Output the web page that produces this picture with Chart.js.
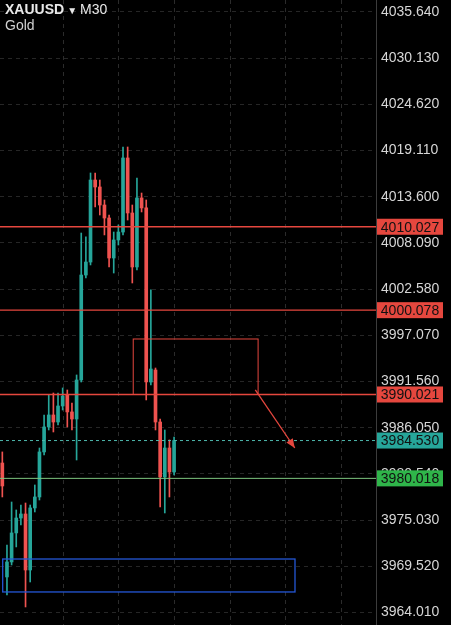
<!DOCTYPE html>
<html>
<head>
<meta charset="utf-8">
<script src="https://cdn.jsdelivr.net/npm/chart.js@4.4.1/dist/chart.umd.min.js"></script>
<style>
    html, body { margin: 0; padding: 0; background: #000; }
    #wrap { position: relative; width: 451px; height: 625px; }
    #title { position: absolute; left: 5px; top: 2px; font-family: "Liberation Sans", Arial, sans-serif; color: #e8e8e8; font-size: 14px; line-height: 15px; pointer-events: none; }
    #title .sym { font-weight: bold; }
    #title .arr { font-size: 10px; margin: 0 3px; }
    #title .sub { color: #d0d0d0; }
</style>
</head>
<body>
<div id="wrap">
    <canvas id="chart" width="451" height="625"></canvas>
    <div id="title"><span class="sym">XAUUSD</span><span class="arr">▼</span>M30<br><span class="sub">Gold</span></div>
</div>
<script>
// M30 candles
const opens  = [3981.85, 3968.26, 3970.05, 3973.51, 3975.29, 3975.77, 3969.09, 3976.49, 3977.80, 3983.17,
                3986.15, 3987.58, 3986.74, 3988.65, 3989.96, 3987.94, 3987.10, 3991.75, 4004.27, 4005.82,
                4015.60, 4014.77, 4012.62, 4011.07, 4006.30, 4008.45, 4009.40, 4018.23, 4011.67, 4005.23,
                4013.46, 4012.27, 3991.51, 3992.94, 3986.74, 3980.18, 3983.64, 3980.78];
const highs  = [3983.17, 3972.07, 3977.20, 3976.25, 3976.84, 3977.08, 3976.84, 3979.23, 3983.64, 3987.58,
                3989.96, 3990.20, 3990.20, 3990.80, 3990.56, 3989.01, 3992.35, 4009.28, 4008.81, 4016.44,
                4016.44, 4015.60, 4013.22, 4011.43, 4009.40, 4010.24, 4019.54, 4019.54, 4012.62, 4015.84,
                4014.05, 4013.22, 4002.49, 3993.18, 3987.10, 3985.79, 3984.60, 3984.95];
const lows   = [3977.80, 3966.11, 3969.69, 3971.84, 3974.46, 3964.68, 3967.66, 3976.01, 3977.44, 3982.81,
                3985.79, 3985.55, 3986.39, 3988.17, 3986.15, 3985.79, 3982.21, 3991.51, 4003.92, 4005.47,
                4012.38, 4011.43, 4009.05, 4005.23, 4004.51, 4007.85, 4009.05, 4010.83, 4003.32, 4004.87,
                4011.79, 3989.37, 3991.16, 3985.79, 3976.61, 3975.89, 3977.80, 3980.42];
const closes = [3979.11, 3970.05, 3973.51, 3975.29, 3975.77, 3969.09, 3976.49, 3977.80, 3983.17, 3986.15,
                3987.58, 3986.74, 3988.65, 3989.84, 3987.94, 3987.10, 3991.75, 4004.27, 4005.82, 4015.60,
                4014.77, 4012.62, 4011.07, 4006.30, 4008.45, 4009.40, 4018.23, 4011.67, 4005.23, 4013.46,
                4012.27, 3991.51, 3993.06, 3986.74, 3980.18, 3983.64, 3980.78, 3984.53];

const totalSlots = 81; // empty space to the right of the last bar
const tickValues = [4035.64, 4030.13, 4024.62, 4019.11, 4013.60, 4008.09, 4002.58,
                    3997.07, 3991.56, 3986.05, 3980.54, 3975.03, 3969.52, 3964.01];
const yMin = 3962.53;
const yMax = 4037.07;

const redLevels = [4010.027, 4000.078, 3990.021];
const greenLevel = 3980.018;
const lastPrice = 3984.530;
const zoneTop = 3996.64;
const arrowFrom = [54.5, 3990.56];
const arrowTo = [63.0, 3983.64];
const blueBox = { from: 0.08, to: 63.05, top: 3970.40, bottom: 3966.47 };

const UP = '#26a69a';
const DOWN = '#ef5350';

const labels = [];
for (let i = 0; i < totalSlots; i++) labels.push(i);

const colors = opens.map((o, i) => closes[i] >= o ? UP : DOWN);
const bodies = opens.map((o, i) => [Math.min(o, closes[i]), Math.max(o, closes[i])]);
const wicks = lows.map((l, i) => [l, highs[i]]);

function priceBox(ctx, chart, price, bg) {
    const y = chart.scales.y.getPixelForValue(price);
    const x = chart.chartArea.right + 1;
    ctx.fillStyle = bg;
    ctx.fillRect(x, y - 8, 66, 16);
    ctx.fillStyle = '#111';
    ctx.font = '14px "Liberation Sans", Arial, sans-serif';
    ctx.textAlign = 'center';
    ctx.textBaseline = 'middle';
    ctx.fillText(price.toFixed(3), x + 33, y + 1);
}

const overlays = {
    id: 'overlays',
    beforeDatasetsDraw(chart) {
        // time grid every 12 bars
        const ctx = chart.ctx;
        const xs = chart.scales.x;
        const area = chart.chartArea;
        ctx.save();
        ctx.strokeStyle = '#2b2b2b';
        ctx.setLineDash([4, 4]);
        ctx.lineWidth = 1;
        for (let i = 13; i < totalSlots; i += 12) {
            const x = Math.round(xs.getPixelForValue(i)) + 0.5;
            ctx.beginPath();
            ctx.moveTo(x, area.top);
            ctx.lineTo(x, area.bottom);
            ctx.stroke();
        }
        ctx.restore();
    },
    afterDatasetsDraw(chart) {
        const ctx = chart.ctx;
        const xs = chart.scales.x;
        const ys = chart.scales.y;
        const area = chart.chartArea;
        ctx.save();

        ctx.lineWidth = 1.3;
        ctx.strokeStyle = '#e5473e';
        redLevels.forEach(p => {
            const y = ys.getPixelForValue(p);
            ctx.beginPath();
            ctx.moveTo(area.left, y);
            ctx.lineTo(area.right, y);
            ctx.stroke();
        });

        ctx.lineWidth = 1;
        ctx.strokeStyle = '#7cc47f';
        let y = ys.getPixelForValue(greenLevel);
        ctx.beginPath();
        ctx.moveTo(area.left, y);
        ctx.lineTo(area.right, y);
        ctx.stroke();

        ctx.strokeStyle = '#4db6ac';
        ctx.setLineDash([3, 3]);
        y = ys.getPixelForValue(lastPrice);
        ctx.beginPath();
        ctx.moveTo(area.left, y);
        ctx.lineTo(area.right, y);
        ctx.stroke();
        ctx.setLineDash([]);

        // resistance zone
        ctx.strokeStyle = '#e5473e';
        ctx.lineWidth = 1;
        const zx1 = xs.getPixelForValue(28.2);
        const zx2 = xs.getPixelForValue(55.1);
        const zy1 = ys.getPixelForValue(zoneTop);
        const zy2 = ys.getPixelForValue(redLevels[2]);
        ctx.strokeRect(zx1, zy1, zx2 - zx1, zy2 - zy1);

        // arrow
        const ax1 = xs.getPixelForValue(arrowFrom[0]);
        const ay1 = ys.getPixelForValue(arrowFrom[1]);
        const ax2 = xs.getPixelForValue(arrowTo[0]);
        const ay2 = ys.getPixelForValue(arrowTo[1]);
        ctx.lineWidth = 1.3;
        ctx.beginPath();
        ctx.moveTo(ax1, ay1);
        ctx.lineTo(ax2, ay2);
        ctx.stroke();
        const ang = Math.atan2(ay2 - ay1, ax2 - ax1);
        ctx.fillStyle = '#e5473e';
        ctx.beginPath();
        ctx.moveTo(ax2, ay2);
        ctx.lineTo(ax2 - 10 * Math.cos(ang - 0.4), ay2 - 10 * Math.sin(ang - 0.4));
        ctx.lineTo(ax2 - 10 * Math.cos(ang + 0.4), ay2 - 10 * Math.sin(ang + 0.4));
        ctx.closePath();
        ctx.fill();

        // support zone
        ctx.strokeStyle = '#2457d6';
        ctx.lineWidth = 1.3;
        const bx1 = xs.getPixelForValue(blueBox.from);
        const bx2 = xs.getPixelForValue(blueBox.to);
        const by1 = ys.getPixelForValue(blueBox.top);
        const by2 = ys.getPixelForValue(blueBox.bottom);
        ctx.strokeRect(bx1, by1, bx2 - bx1, by2 - by1);

        ctx.restore();
    },
    afterDraw(chart) {
        const ctx = chart.ctx;
        ctx.save();
        redLevels.forEach(p => priceBox(ctx, chart, p, '#e5473e'));
        priceBox(ctx, chart, lastPrice, '#26a69a');
        priceBox(ctx, chart, greenLevel, '#2fb54a');
        ctx.restore();
    }
};

new Chart(document.getElementById('chart'), {
    type: 'bar',
    data: {
        labels: labels,
        datasets: [
            { data: wicks, backgroundColor: colors, barThickness: 1, grouped: false },
            { data: bodies, backgroundColor: colors, barThickness: 3, grouped: false }
        ]
    },
    options: {
        responsive: false,
        animation: false,
        layout: { padding: 0 },
        plugins: { legend: { display: false }, tooltip: { enabled: false } },
        scales: {
            x: { display: false },
            y: {
                position: 'right',
                min: yMin,
                max: yMax,
                afterBuildTicks: scale => { scale.ticks = tickValues.map(v => ({ value: v })); },
                afterFit: scale => {
                    scale.width = 75;
                    scale.paddingTop = 0;
                    scale.paddingBottom = 0;
                },
                grid: { color: '#262626', drawTicks: false },
                border: { display: true, color: '#3c3c3c', dash: [4, 4] },
                ticks: {
                    color: '#d6d6d6',
                    padding: 5,
                    font: { family: '"Liberation Sans", Arial, sans-serif', size: 14 },
                    callback: v => v.toFixed(3)
                }
            }
        }
    },
    plugins: [overlays]
});
</script>
</body>
</html>
